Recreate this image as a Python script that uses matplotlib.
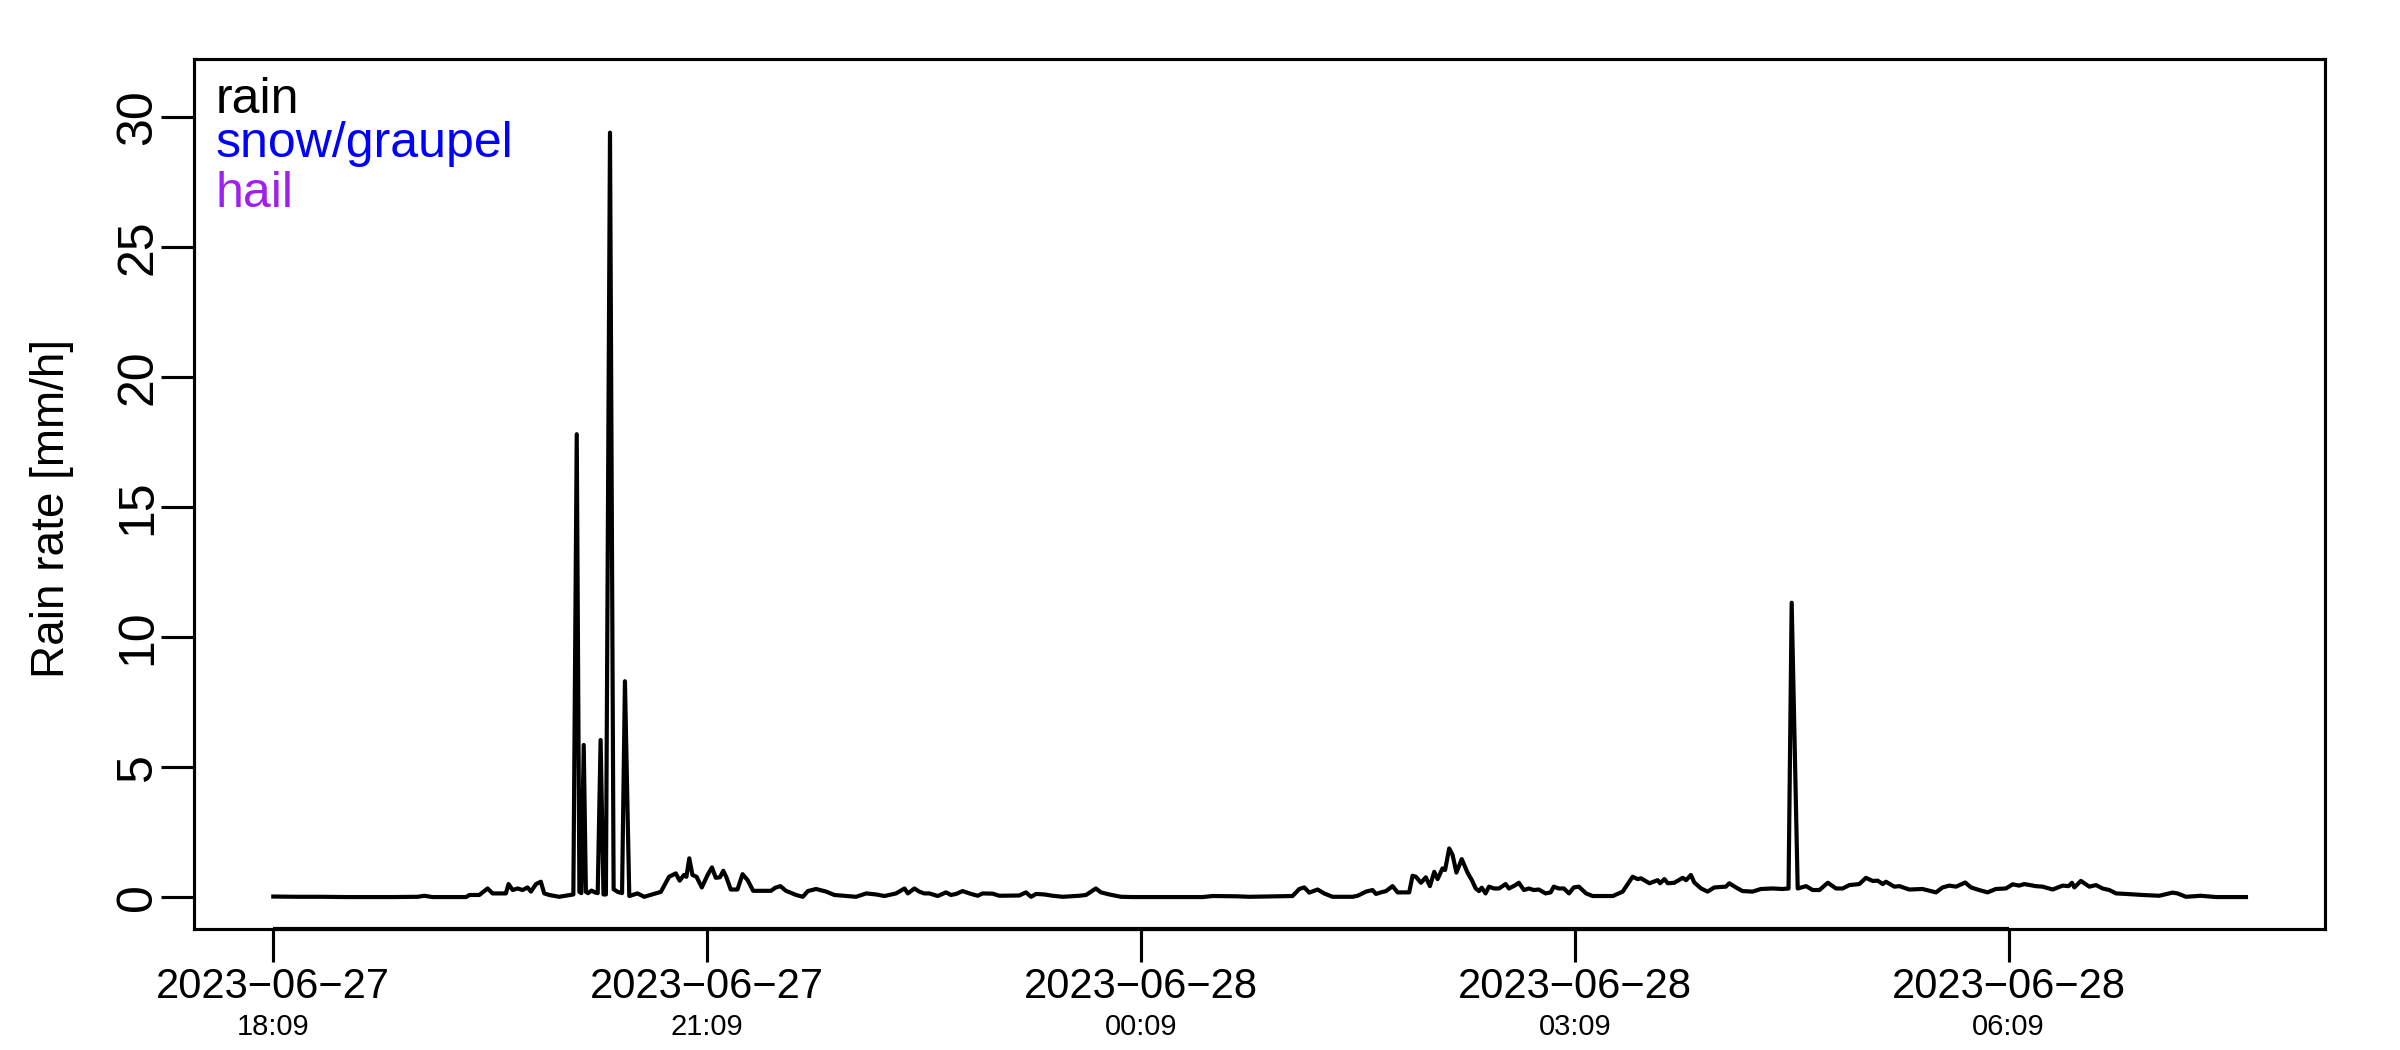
import numpy as np
import pandas as pd
import matplotlib
matplotlib.use("Agg")
import matplotlib.pyplot as plt
import matplotlib.dates as mdates
import matplotlib.transforms as mtransforms

plt.rcParams['font.family'] = ['Liberation Sans', 'DejaVu Sans']

# start of the record
start = pd.Timestamp("2023-06-27 18:09")

# minutes since start, and rain rate [mm/h]
minutes = [0, 10, 20, 30, 40, 50, 60, 62.6, 66, 75, 80, 81.4, 85.5, 88.9, 91, 96.5,
           97.6, 99.3, 101.4, 103.4, 105.5, 106.9, 109, 111, 112.4, 114.5, 118.6,
           122, 124.5, 125.9, 127, 127.8, 128.8, 129.7, 130.6, 132, 133.4, 134.6,
           135.8, 137, 138, 139.7, 141.2, 142.9, 144.7, 145.9, 147.7, 151.1, 153.9,
           158.7, 160.8, 164.2, 167, 168.6, 170.4, 171.4, 172.6, 173.9, 175.6, 177.8,
           180.2, 182, 183.6, 185.3, 186.7, 188, 189.8, 192.6, 194.7, 196.8, 199.1,
           206.5, 208.3, 210.4, 212.7, 216.9, 219.7, 221.8, 225.2, 229.4, 232.8,
           241.8, 246, 250.1, 253.6, 258.4, 261.9, 263.3, 266, 268, 270.1, 272.2,
           275.7, 279.1, 281.2, 283.3, 286, 289.5, 292.3, 294.3, 298.5, 301.2, 309.5,
           312.3, 314.4, 316.5, 319.9, 323.4, 327.5, 334.4, 337.2, 341.3, 343.4,
           346.9, 351.7, 356.5, 385.6, 389.7, 399.4, 404.9, 422.9, 425.7, 427.8,
           429.8, 433.3, 436, 439.5, 447.8, 449.9, 453.4, 456.1, 457.5, 459.6, 461.7,
           464.4, 466.5, 471.3, 472.7, 474.1, 476.2, 478.2, 479.9, 481.7, 483.1,
           485.1, 486.2, 487.9, 489.3, 490.9, 493.1, 495.5, 497.3, 498.9, 500.3,
           501.4, 503, 504.4, 506.5, 508.6, 511.3, 512.7, 515.4, 516.8, 518.9, 521,
           523, 525.1, 527.9, 530, 531.3, 533.4, 535.5, 537.6, 539.6, 541.7, 544.7,
           547.4, 555.8, 559.9, 564, 566.1, 567.5, 571, 574.4, 575.4, 577.2, 578.6,
           581.3, 584.8, 586.2, 588.2, 589.6, 592.4, 595.1, 597.9, 602.7, 604.1,
           606.9, 609.6, 613.8, 617.2, 622.1, 626.2, 628.7, 630, 632.5, 636, 638.7,
           641.5, 645, 648.4, 651.2, 653.9, 658.1, 660.8, 663.6, 665.7, 667.8, 669.1,
           672.6, 674.7, 678.8, 684.3, 689.9, 692.6, 695.4, 698.2, 702, 704.4, 707.8,
           711.3, 714.7, 718.9, 721.7, 724.4, 726.5, 731.3, 734.1, 738.3, 742.4,
           744.9, 746.3, 747.3, 750, 753.5, 756.3, 759, 761.8, 764.6, 768.7, 775.6,
           782.5, 788, 790.1, 793.6, 799.8, 806, 818.5]
rate = [0.02, 0.01, 0.01, 0.0, 0.0, 0.0, 0.01, 0.05, 0.0, 0.0, 0.0, 0.08, 0.08, 0.33,
        0.14, 0.14, 0.5, 0.27, 0.33, 0.27, 0.37, 0.21, 0.5, 0.59, 0.14, 0.08, 0.01,
        0.06, 0.1, 17.8, 0.2, 0.15, 5.85, 0.2, 0.15, 0.25, 0.18, 0.15, 6.04, 0.1, 0.1,
        29.4, 0.3, 0.2, 0.15, 8.3, 0.04, 0.14, 0.01, 0.14, 0.2, 0.78, 0.91, 0.63,
        0.85, 0.78, 1.49, 0.85, 0.78, 0.37, 0.85, 1.14, 0.74, 0.76, 1.01, 0.76, 0.29,
        0.29, 0.88, 0.65, 0.24, 0.24, 0.36, 0.42, 0.24, 0.08, 0.01, 0.23, 0.31, 0.21,
        0.08, 0.01, 0.14, 0.1, 0.04, 0.14, 0.33, 0.14, 0.33, 0.21, 0.14, 0.14, 0.04,
        0.18, 0.08, 0.12, 0.23, 0.12, 0.05, 0.14, 0.13, 0.05, 0.06, 0.18, 0.01, 0.12,
        0.1, 0.05, 0.01, 0.05, 0.08, 0.33, 0.18, 0.1, 0.01, 0.0, 0.0, 0.04, 0.03,
        0.01, 0.04, 0.31, 0.37, 0.17, 0.29, 0.14, 0.01, 0.01, 0.05, 0.21, 0.27, 0.12,
        0.18, 0.23, 0.42, 0.18, 0.18, 0.82, 0.78, 0.55, 0.76, 0.42, 0.97, 0.69, 1.1,
        1.04, 1.87, 1.62, 0.94, 1.46, 0.94, 0.65, 0.33, 0.23, 0.36, 0.14, 0.4, 0.33,
        0.33, 0.5, 0.33, 0.46, 0.55, 0.27, 0.33, 0.27, 0.29, 0.14, 0.18, 0.4, 0.33,
        0.33, 0.14, 0.37, 0.4, 0.14, 0.04, 0.04, 0.21, 0.78, 0.69, 0.72, 0.53, 0.65,
        0.53, 0.69, 0.53, 0.55, 0.74, 0.65, 0.85, 0.56, 0.33, 0.21, 0.37, 0.4, 0.53,
        0.37, 0.23, 0.21, 0.31, 0.33, 0.31, 0.33, 11.32, 0.33, 0.42, 0.27, 0.27, 0.55,
        0.33, 0.33, 0.46, 0.5, 0.74, 0.62, 0.63, 0.5, 0.59, 0.4, 0.42, 0.29, 0.31,
        0.18, 0.37, 0.44, 0.4, 0.56, 0.37, 0.27, 0.18, 0.31, 0.33, 0.49, 0.44, 0.5,
        0.42, 0.4, 0.29, 0.44, 0.42, 0.55, 0.37, 0.62, 0.4, 0.46, 0.33, 0.27, 0.14,
        0.12, 0.08, 0.05, 0.17, 0.14, 0.01, 0.05, 0.0, 0.0]

# axis ticks every 3 hours
tick_times = ["2023-06-27 18:09", "2023-06-27 21:09", "2023-06-28 00:09",
              "2023-06-28 03:09", "2023-06-28 06:09"]
y_ticks = [0, 5, 10, 15, 20, 25, 30]

# legend entries
legend_names = ["rain", "snow/graupel", "hail"]
legend_colors = ["black", "#0000FF", "#A020F0"]
legend_y = [0.938, 0.887, 0.830]

times = start + pd.to_timedelta(minutes, unit="min")
ticks = pd.to_datetime(tick_times)

fig = plt.figure(figsize=(8, 3.5), dpi=300)
ax = fig.add_axes([0.0810, 0.1152, 0.8877, 0.8286])

ax.plot(times, rate, color="black", lw=1.0, solid_joinstyle="round")

# R style range: 4% padding on the x side
span = times[-1] - times[0]
ax.set_xlim(times[0] - 0.04 * span, times[-1] + 0.04 * span)
ax.set_ylim(-1.23, 32.23)

for s in ax.spines.values():
    s.set_linewidth(0.75)

ax.set_xticks(ticks)
ax.set_xticklabels([t.strftime("%Y-%m-%d").replace("-", "\u2212") for t in ticks], fontsize=10)
ax.set_yticks(y_ticks)
ax.set_yticklabels([str(v) for v in y_ticks], fontsize=12, rotation=90, va="center")
ax.tick_params(axis="both", direction="out", length=8.0, width=0.75)
ax.tick_params(axis="x", pad=1)
ax.tick_params(axis="y", pad=0)

# R draws the axis line only between the first and last tick
ax.plot([ticks[0], ticks[-1]], [-1.23, -1.23], color="black", lw=1.0, clip_on=False,
        solid_capstyle="butt")

# clock times under the dates
trans = mtransforms.blended_transform_factory(ax.transData, ax.transAxes)
for t in ticks:
    ax.text(t, -0.113, t.strftime("%H:%M"), transform=trans, ha="center", va="center",
            fontsize=7)

ax.text(-0.067, 0.483, "Rain rate [mm/h]", transform=ax.transAxes, rotation=90,
        ha="center", va="center", fontsize=11)

# text-only legend
for name, col, yy in zip(legend_names, legend_colors, legend_y):
    ax.text(0.0101, yy, name, transform=ax.transAxes, color=col,
            ha="left", va="baseline", fontsize=12)

fig.savefig("out.png", dpi=300)
